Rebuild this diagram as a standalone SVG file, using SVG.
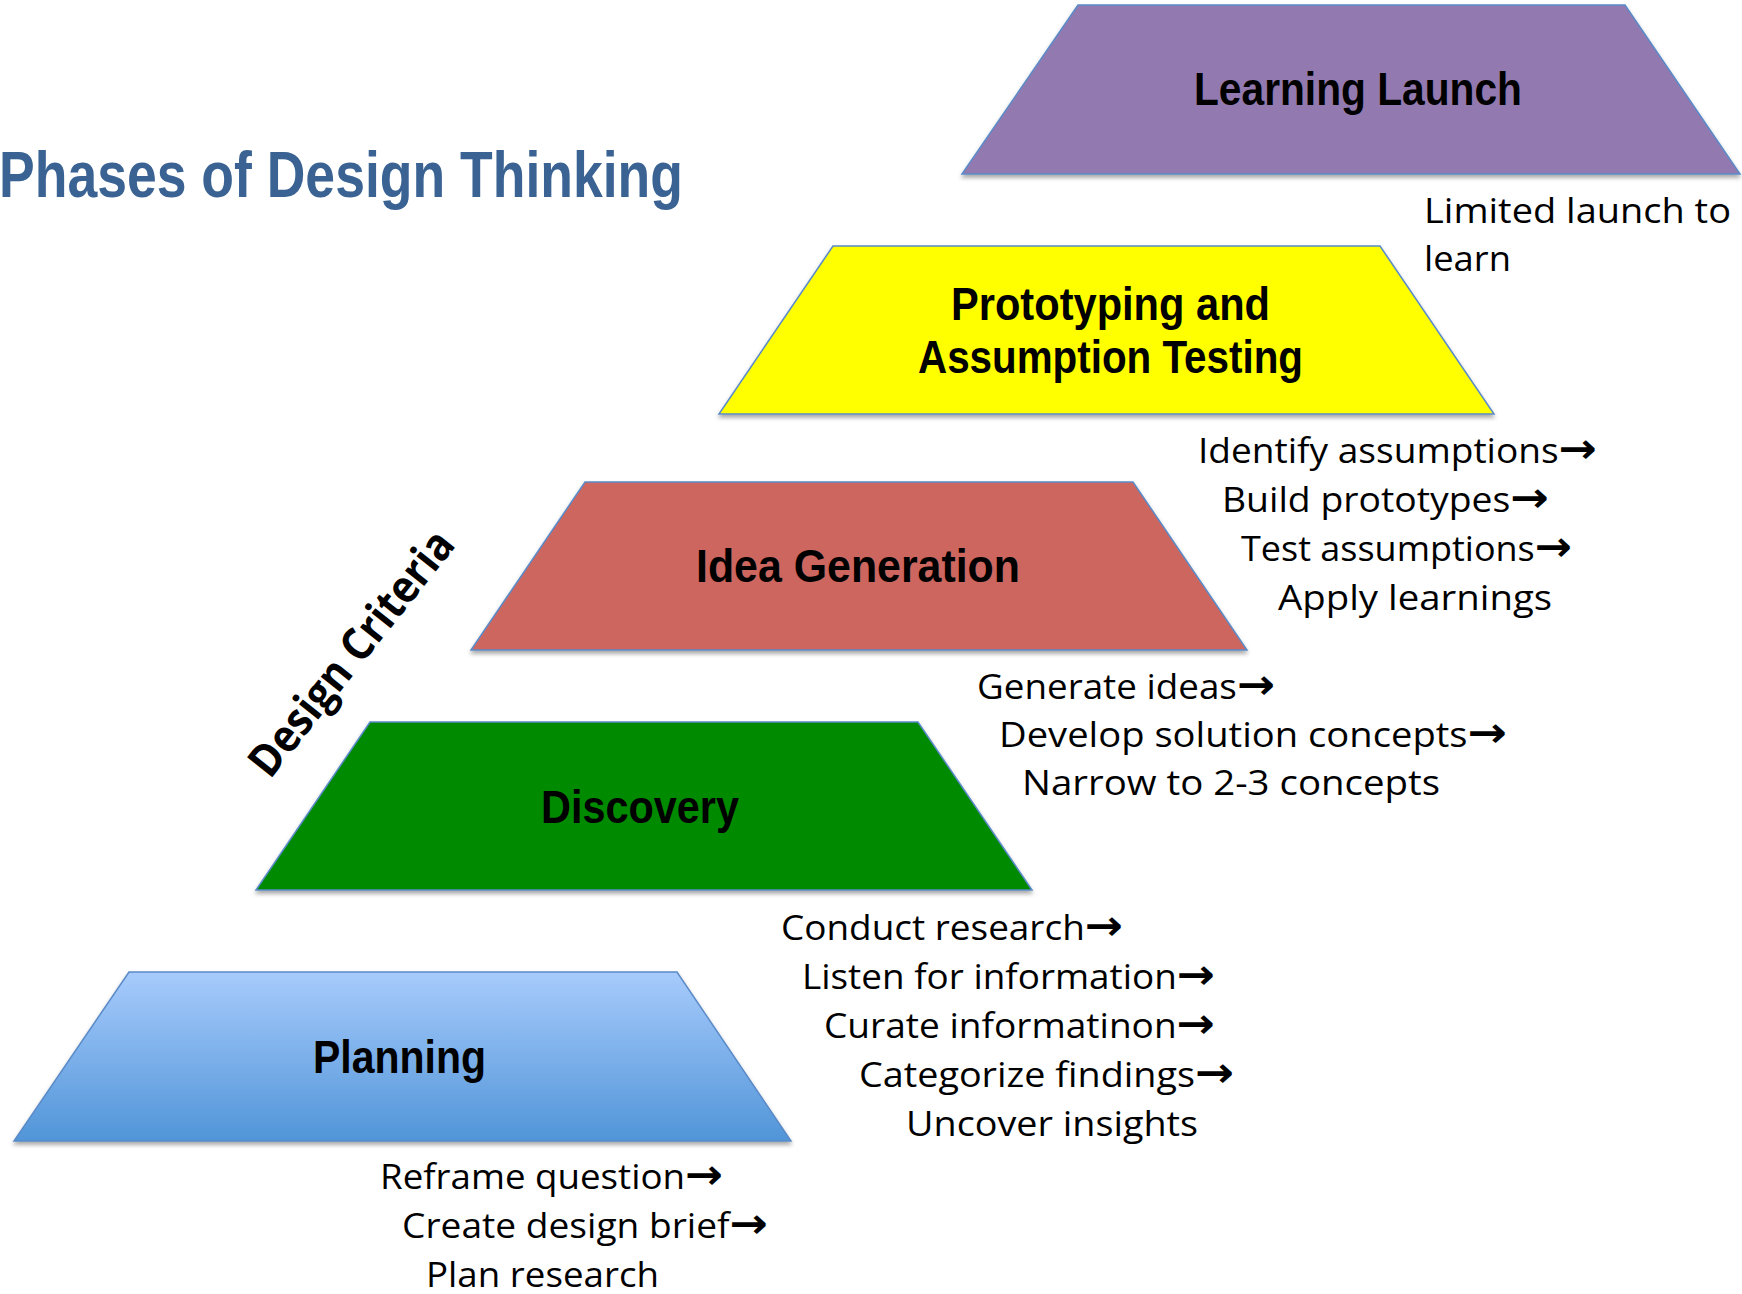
<svg xmlns="http://www.w3.org/2000/svg" width="1742" height="1294" viewBox="0 0 1742 1294">
<defs>
<linearGradient id="gPlan" x1="0" y1="0" x2="0" y2="1">
<stop offset="0" stop-color="#A7CBFC"/>
<stop offset="1" stop-color="#5195D8"/>
</linearGradient>
<filter id="sh" x="-5%" y="-5%" width="110%" height="120%">
<feDropShadow dx="0" dy="3" stdDeviation="2" flood-color="#000" flood-opacity="0.35"/>
</filter>
</defs>
<style>
.trap{stroke:#5A8BC8;stroke-width:1.5;filter:url(#sh)}
.lbl{font-family:"Liberation Sans",Arial,sans-serif;font-weight:bold;font-size:46px;fill:#000}
.txt{font-family:"Open Sans","DejaVu Sans",sans-serif;font-size:34px;fill:#000}
.ar{font-family:"DejaVu Sans",sans-serif;font-weight:bold;font-size:42px}
.title{font-family:"Liberation Sans",Arial,sans-serif;font-weight:bold;font-size:65px;fill:#3A6394}
.crit{font-family:"Open Sans","DejaVu Sans",sans-serif;font-weight:bold;font-size:45px;fill:#000}
</style>
<rect width="1742" height="1294" fill="#fff"/>
<text class="title" x="-1" y="197" textLength="684" lengthAdjust="spacingAndGlyphs">Phases of Design Thinking</text>
<text class="crit" transform="translate(270,780) rotate(-51.5)" textLength="300" lengthAdjust="spacingAndGlyphs">Design Criteria</text>
<g id="learning-launch">
<polygon class="trap" fill="#927AB0" points="1078,5 1625,5 1740,174 962,174"/>
<text class="lbl" x="1194" y="105" textLength="328" lengthAdjust="spacingAndGlyphs">Learning Launch</text>
</g>
<g id="prototyping">
<polygon class="trap" fill="#FFFF00" points="833,246 1380,246 1494,414 719,414"/>
<text class="lbl" x="951" y="320" textLength="319" lengthAdjust="spacingAndGlyphs">Prototyping and</text>
<text class="lbl" x="918" y="373" textLength="385" lengthAdjust="spacingAndGlyphs">Assumption Testing</text>
</g>
<g id="idea-generation">
<polygon class="trap" fill="#CC665E" points="585,482 1133,482 1247,650 471,650"/>
<text class="lbl" x="696" y="582" textLength="324" lengthAdjust="spacingAndGlyphs">Idea Generation</text>
</g>
<g id="discovery">
<polygon class="trap" fill="#008A00" points="370,722 918,722 1032,890 256,890"/>
<text class="lbl" x="541" y="823" textLength="198" lengthAdjust="spacingAndGlyphs">Discovery</text>
</g>
<g id="planning">
<polygon class="trap" fill="url(#gPlan)" points="129,972 677,972 791,1141 14,1141"/>
<text class="lbl" x="313" y="1073" textLength="173" lengthAdjust="spacingAndGlyphs">Planning</text>
</g>
<g id="connectors"/>
<g id="learning-launch-steps">
<text class="txt" x="1424" y="223" textLength="307" lengthAdjust="spacingAndGlyphs">Limited launch to</text>
<text class="txt" x="1424" y="271" textLength="87" lengthAdjust="spacingAndGlyphs">learn</text>
</g>
<g id="prototyping-steps">
<text class="txt" x="1198" y="463" textLength="399" lengthAdjust="spacingAndGlyphs">Identify assumptions<tspan class="ar">→</tspan></text>
<text class="txt" x="1222" y="512" textLength="327" lengthAdjust="spacingAndGlyphs">Build prototypes<tspan class="ar">→</tspan></text>
<text class="txt" x="1241" y="561" textLength="331" lengthAdjust="spacingAndGlyphs">Test assumptions<tspan class="ar">→</tspan></text>
<text class="txt" x="1278" y="610" textLength="274" lengthAdjust="spacingAndGlyphs">Apply learnings</text>
</g>
<g id="idea-steps">
<text class="txt" x="977" y="699" textLength="298" lengthAdjust="spacingAndGlyphs">Generate ideas<tspan class="ar">→</tspan></text>
<text class="txt" x="999" y="747" textLength="508" lengthAdjust="spacingAndGlyphs">Develop solution concepts<tspan class="ar">→</tspan></text>
<text class="txt" x="1022" y="795" textLength="418" lengthAdjust="spacingAndGlyphs">Narrow to 2-3 concepts</text>
</g>
<g id="discovery-steps">
<text class="txt" x="781" y="940" textLength="342" lengthAdjust="spacingAndGlyphs">Conduct research<tspan class="ar">→</tspan></text>
<text class="txt" x="802" y="989" textLength="413" lengthAdjust="spacingAndGlyphs">Listen for information<tspan class="ar">→</tspan></text>
<text class="txt" x="824" y="1038" textLength="391" lengthAdjust="spacingAndGlyphs">Curate informatinon<tspan class="ar">→</tspan></text>
<text class="txt" x="859" y="1087" textLength="375" lengthAdjust="spacingAndGlyphs">Categorize findings<tspan class="ar">→</tspan></text>
<text class="txt" x="906" y="1136" textLength="292" lengthAdjust="spacingAndGlyphs">Uncover insights</text>
</g>
<g id="planning-steps">
<text class="txt" x="380" y="1189" textLength="343" lengthAdjust="spacingAndGlyphs">Reframe question<tspan class="ar">→</tspan></text>
<text class="txt" x="402" y="1238" textLength="366" lengthAdjust="spacingAndGlyphs">Create design brief<tspan class="ar">→</tspan></text>
<text class="txt" x="426" y="1287" textLength="233" lengthAdjust="spacingAndGlyphs">Plan research</text>
</g>
</svg>
